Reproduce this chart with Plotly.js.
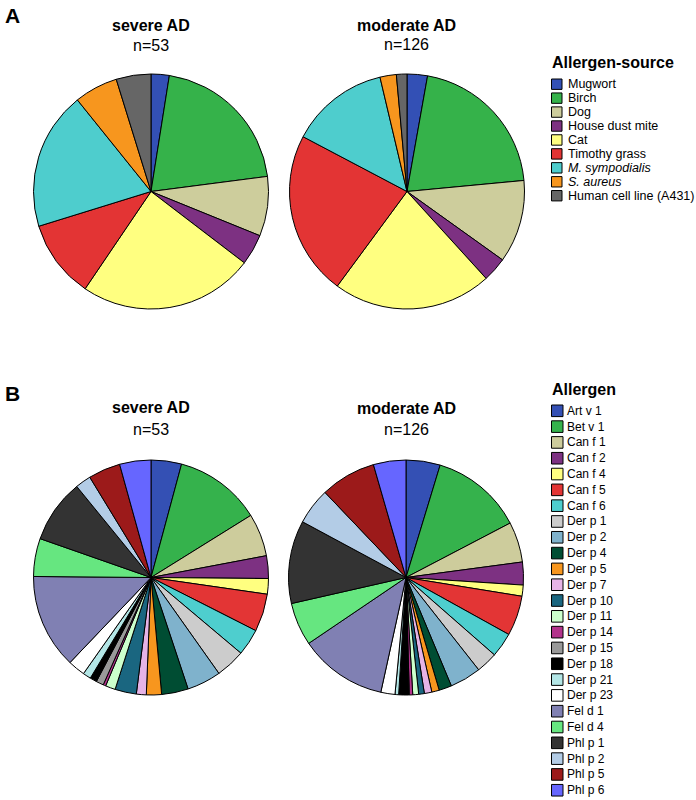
<!DOCTYPE html>
<html>
<head>
<meta charset="utf-8">
<script src="https://cdn.plot.ly/plotly-3.0.1.min.js"></script>
<style>html,body{margin:0;padding:0;background:#fff;}#chart{width:696px;height:800px;}</style>
</head>
<body>
<div id="chart"></div>
<script>
// ---- Data ----
var sourceLabels = ['Mugwort', 'Birch', 'Dog', 'House dust mite', 'Cat', 'Timothy grass', '<i>M. sympodialis</i>', '<i>S. aureus</i>', 'Human cell line (A431)'];
var sourceColors = ['#3350b5', '#35b24a', '#cdcd9c', '#7d3182', '#ffff80', '#e33434', '#4ecdcd', '#f7961e', '#666666'];
var severeSourceValues = [9.0, 73.6, 29.5, 15.3, 86.7, 38.7, 68.4, 21.6, 17.2];
var moderateSourceValues = [10.1, 74.5, 41.0, 12.1, 78.7, 81.4, 48.9, 8.1, 5.2];

var allergenLabels = ['Art v 1', 'Bet v 1', 'Can f 1', 'Can f 2', 'Can f 4', 'Can f 5', 'Can f 6', 'Der p 1', 'Der p 2', 'Der p 4', 'Der p 5', 'Der p 7', 'Der p 10', 'Der p 11', 'Der p 14', 'Der p 15', 'Der p 18', 'Der p 21', 'Der p 23', 'Fel d 1', 'Fel d 4', 'Phl p 1', 'Phl p 2', 'Phl p 5', 'Phl p 6'];
var allergenColors = ['#3450b4', '#35b24c', '#cdcc9c', '#7d3182', '#ffff80', '#e33535', '#4ecece', '#cccccc', '#7fb2cc', '#004d33', '#f7961e', '#e6b3e6', '#1a6680', '#ccffcc', '#b3338c', '#999999', '#000000', '#b3e6e6', '#ffffff', '#8080b3', '#66e680', '#333333', '#b3cce6', '#9c1a1a', '#6666ff'];
var severeAllergenValues = [15.1, 43.0, 21.2, 11.2, 7.7, 18.7, 13.2, 14.6, 16.9, 13.2, 7.5, 4.9, 10.6, 4.9, 1.3, 3.7, 3.4, 4.0, 8.5, 46.9, 18.8, 31.5, 7.8, 15.9, 15.5];
var moderateAllergenValues = [16.9, 45.5, 20.0, 11.3, 5.5, 19.8, 12.2, 10.6, 15.5, 6.3, 3.7, 3.7, 2.8, 2.9, 1.7, 0.4, 4.8, 1.8, 7.0, 43.5, 21.3, 41.1, 18.1, 27.5, 16.1];

var groupTitles = ['severe AD', 'moderate AD'];
var groupN = ['n=53', 'n=126'];

// ---- Layout helpers ----
var W = 696, H = 800;
function px(x) { return x / W; }
function py(y) { return 1 - y / H; }
function dom(cx, cy, r) {
  return { x: [px(cx - r), px(cx + r)], y: [py(cy + r), py(cy - r)] };
}
var FONT = 'Liberation Sans, Arial, sans-serif';

function pieTrace(labels, values, colors, d) {
  return {
    type: 'pie', labels: labels, values: values, sort: false,
    direction: 'clockwise', rotation: 0, textinfo: 'none',
    marker: { colors: colors, line: { color: '#000000', width: 1 } },
    domain: d, showlegend: false, hoverinfo: 'label+value'
  };
}

var R = 117.5;
var data = [
  pieTrace(sourceLabels, severeSourceValues, sourceColors, dom(151, 191.5, R)),
  pieTrace(sourceLabels, moderateSourceValues, sourceColors, dom(407, 191.5, R)),
  pieTrace(allergenLabels, severeAllergenValues, allergenColors, dom(151, 577.5, R)),
  pieTrace(allergenLabels, moderateAllergenValues, allergenColors, dom(406, 577.5, R))
];

var annotations = [];
var shapes = [];
function txt(x, y, t, size, bold, anchor, pad) {
  annotations.push({
    xref: 'paper', yref: 'paper', x: px(x), y: py(y), text: bold ? '<b>' + t + '</b>' : t,
    showarrow: false, xanchor: anchor || 'center', yanchor: 'middle', borderpad: pad === undefined ? 1 : pad,
    font: { family: FONT, size: size, color: '#000' }
  });
}
// panel letters
txt(3, 15, 'A', 21, true, 'left');
txt(3, 394, 'B', 21, true, 'left');
// pie titles
txt(151, 26, groupTitles[0], 16, true);
txt(151, 45, groupN[0], 16, false);
txt(406, 26, groupTitles[1], 16, true);
txt(406, 44, groupN[1], 16, false);
txt(151, 407, groupTitles[0], 16, true);
txt(151, 429, groupN[0], 16, false);
txt(406, 408, groupTitles[1], 16, true);
txt(406, 429, groupN[1], 16, false);

// legends
txt(550, 62, 'Allergen-source', 16, true, 'left');
sourceLabels.forEach(function (lab, i) {
  var cy = 84.2 + i * 13.94;
  shapes.push({ type: 'rect', xref: 'paper', yref: 'paper', x0: px(551.5), x1: px(562), y0: py(cy + 5.2), y1: py(cy - 5.2),
    fillcolor: sourceColors[i], line: { color: '#000', width: 1 } });
  txt(567, cy, lab, 12.5, false, 'left', 0);
});
txt(550, 389, 'Allergen', 16, true, 'left');
allergenLabels.forEach(function (lab, i) {
  var cy = 410.8 + i * 15.81;
  shapes.push({ type: 'rect', xref: 'paper', yref: 'paper', x0: px(551.5), x1: px(563), y0: py(cy + 5.8), y1: py(cy - 5.8),
    fillcolor: allergenColors[i], line: { color: '#000', width: 1 } });
  txt(566, cy, lab, 12, false, 'left', 0);
});

var layout = {
  width: W, height: H, margin: { l: 0, r: 0, t: 0, b: 0 },
  paper_bgcolor: '#fff', plot_bgcolor: '#fff', showlegend: false,
  font: { family: FONT },
  annotations: annotations, shapes: shapes
};
Plotly.newPlot('chart', data, layout, { displayModeBar: false, staticPlot: true });
</script>
</body>
</html>
